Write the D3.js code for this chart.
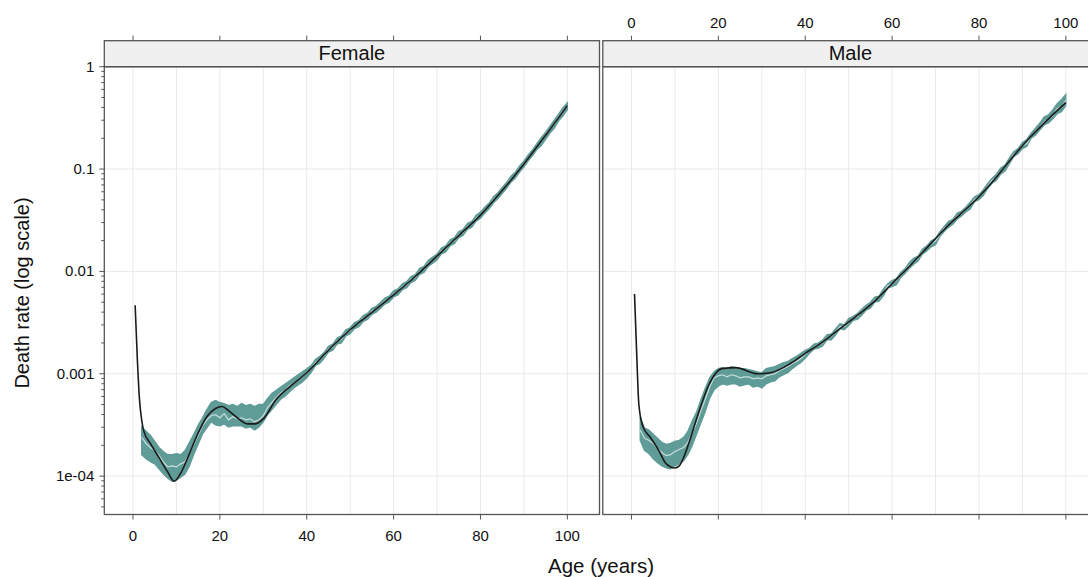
<!DOCTYPE html>
<html>
<head>
<meta charset="utf-8">
<script src="https://cdn.jsdelivr.net/npm/d3@7"></script>
<style>
  body { margin: 0; background: #fff; }
  text { font-family: "Liberation Sans", Arial, sans-serif; fill: #111; }
</style>
</head>
<body>
<svg id="chart" width="1088" height="577"></svg>
<script>
// death rates are stored as log10 values

const panels = ["Female", "Male"];
const xTicks = [0, 20, 40, 60, 80, 100];
const xGrid = [0, 10, 20, 30, 40, 50, 60, 70, 80, 90, 100];
const yTicks = [1, 0.1, 0.01, 0.001, 0.0001];
const yTickLabels = ["1", "0.1", "0.01", "0.001", "1e-04"];

// band (ages 2..100)
const bandAges = d3.range(2, 101);

const femaleMean = [-3.62, -3.68, -3.72, -3.75, -3.80, -3.86, -3.91, -3.90, -3.91, -3.88,
  -3.86, -3.78, -3.69, -3.60, -3.51, -3.45, -3.41, -3.40, -3.43, -3.39,
  -3.45, -3.42, -3.44, -3.43, -3.45, -3.44, -3.47, -3.45, -3.41, -3.33,
  -3.28, -3.23, -3.19, -3.16, -3.12, -3.09, -3.06, -3.03, -2.99,
  -2.95, -2.89, -2.86, -2.82, -2.76, -2.74, -2.68, -2.66, -2.60, -2.58,
  -2.53, -2.51, -2.46, -2.44, -2.39, -2.37, -2.33, -2.29, -2.27, -2.22,
  -2.20, -2.15, -2.13, -2.08, -2.06, -2.00, -1.98, -1.92, -1.89, -1.86,
  -1.80, -1.78, -1.72, -1.70, -1.64, -1.62, -1.56, -1.54, -1.48, -1.45,
  -1.40, -1.36, -1.30, -1.26, -1.21, -1.16, -1.10, -1.06, -1.00, -0.95,
  -0.89, -0.84, -0.78, -0.73, -0.67, -0.61, -0.56, -0.49, -0.44, -0.38];
const femaleLo = [-3.79, -3.83, -3.86, -3.88, -3.93, -3.98, -4.02, -4.05, -4.04, -4.01,
  -3.98, -3.90, -3.79, -3.69, -3.59, -3.53, -3.47, -3.50, -3.51, -3.49,
  -3.52, -3.51, -3.51, -3.51, -3.53, -3.52, -3.55, -3.52, -3.47, -3.40,
  -3.35, -3.30, -3.25, -3.22, -3.18, -3.14, -3.11, -3.08, -3.04,
  -2.99, -2.92, -2.90, -2.85, -2.79, -2.77, -2.71, -2.70, -2.63, -2.61,
  -2.56, -2.54, -2.49, -2.47, -2.42, -2.40, -2.36, -2.32, -2.30, -2.25,
  -2.23, -2.18, -2.16, -2.11, -2.09, -2.03, -2.01, -1.95, -1.92, -1.89,
  -1.83, -1.81, -1.75, -1.73, -1.67, -1.65, -1.59, -1.57, -1.51, -1.48,
  -1.43, -1.39, -1.33, -1.29, -1.24, -1.19, -1.13, -1.09, -1.03, -0.98,
  -0.92, -0.87, -0.81, -0.77, -0.71, -0.65, -0.60, -0.53, -0.48, -0.42];
const femaleHi = [-3.52, -3.56, -3.60, -3.66, -3.72, -3.76, -3.79, -3.79, -3.78, -3.79,
  -3.75, -3.67, -3.59, -3.50, -3.43, -3.35, -3.28, -3.26, -3.28, -3.29,
  -3.31, -3.30, -3.32, -3.29, -3.31, -3.30, -3.32, -3.30, -3.30, -3.24,
  -3.19, -3.16, -3.13, -3.10, -3.07, -3.04, -3.01, -2.98, -2.95,
  -2.92, -2.86, -2.83, -2.79, -2.73, -2.71, -2.65, -2.63, -2.57, -2.55,
  -2.50, -2.48, -2.43, -2.41, -2.36, -2.34, -2.30, -2.26, -2.24, -2.19,
  -2.17, -2.12, -2.10, -2.05, -2.03, -1.97, -1.95, -1.89, -1.86, -1.83,
  -1.77, -1.75, -1.69, -1.67, -1.61, -1.59, -1.53, -1.51, -1.45, -1.42,
  -1.37, -1.33, -1.27, -1.23, -1.18, -1.13, -1.07, -1.03, -0.97, -0.92,
  -0.86, -0.81, -0.75, -0.69, -0.64, -0.58, -0.52, -0.46, -0.40, -0.35];

const maleMean = [-3.55, -3.63, -3.65, -3.68, -3.73, -3.77, -3.80, -3.79, -3.76, -3.74,
  -3.72, -3.67, -3.58, -3.48, -3.36, -3.25, -3.13, -3.04, -3.02, -3.01,
  -3.03, -3.01, -3.02, -3.04, -3.03, -3.03, -3.05, -3.04, -3.05, -3.02,
  -3.01, -3.00, -2.97, -2.95, -2.93, -2.90, -2.88, -2.85, -2.81,
  -2.77, -2.74, -2.72, -2.70, -2.65, -2.63, -2.59, -2.54, -2.54, -2.50,
  -2.46, -2.44, -2.39, -2.36, -2.33, -2.28, -2.26, -2.21, -2.14, -2.12,
  -2.09, -2.04, -1.99, -1.94, -1.91, -1.87, -1.81, -1.77, -1.73, -1.70,
  -1.64, -1.58, -1.55, -1.51, -1.46, -1.44, -1.39, -1.35, -1.30, -1.27,
  -1.23, -1.17, -1.11, -1.08, -1.03, -0.98, -0.92, -0.86, -0.82, -0.77,
  -0.75, -0.68, -0.63, -0.59, -0.54, -0.51, -0.48, -0.41, -0.39, -0.33];
const maleLo = [-3.65, -3.75, -3.78, -3.83, -3.87, -3.90, -3.92, -3.93, -3.90, -3.88,
  -3.85, -3.79, -3.70, -3.59, -3.48, -3.37, -3.24, -3.16, -3.12, -3.10,
  -3.11, -3.10, -3.10, -3.12, -3.11, -3.10, -3.13, -3.12, -3.14, -3.10,
  -3.08, -3.07, -3.03, -3.01, -2.99, -2.95, -2.92, -2.89, -2.85,
  -2.80, -2.76, -2.75, -2.73, -2.67, -2.67, -2.62, -2.56, -2.57, -2.53,
  -2.48, -2.47, -2.43, -2.38, -2.36, -2.30, -2.29, -2.24, -2.16, -2.15,
  -2.13, -2.06, -2.02, -1.97, -1.93, -1.90, -1.83, -1.80, -1.76, -1.74,
  -1.66, -1.61, -1.57, -1.54, -1.49, -1.46, -1.42, -1.39, -1.32, -1.30,
  -1.26, -1.19, -1.14, -1.11, -1.05, -1.02, -0.95, -0.88, -0.85, -0.80,
  -0.78, -0.70, -0.67, -0.62, -0.57, -0.55, -0.51, -0.46, -0.44, -0.38];
const maleHi = [-3.42, -3.53, -3.55, -3.59, -3.63, -3.67, -3.69, -3.68, -3.66, -3.65,
  -3.62, -3.56, -3.46, -3.37, -3.25, -3.14, -3.04, -2.98, -2.95, -2.94,
  -2.95, -2.93, -2.94, -2.95, -2.95, -2.96, -2.97, -2.98, -2.99, -2.95,
  -2.94, -2.93, -2.91, -2.89, -2.88, -2.85, -2.83, -2.80, -2.77,
  -2.75, -2.71, -2.70, -2.67, -2.62, -2.61, -2.56, -2.51, -2.52, -2.46,
  -2.44, -2.41, -2.37, -2.33, -2.30, -2.25, -2.24, -2.17, -2.12, -2.09,
  -2.07, -2.01, -1.97, -1.91, -1.87, -1.85, -1.78, -1.75, -1.70, -1.68,
  -1.61, -1.56, -1.51, -1.49, -1.43, -1.41, -1.37, -1.32, -1.27, -1.25,
  -1.20, -1.14, -1.09, -1.05, -0.99, -0.96, -0.89, -0.83, -0.80, -0.74,
  -0.71, -0.65, -0.60, -0.55, -0.49, -0.47, -0.42, -0.36, -0.32, -0.27];

// smooth fitted curve
const femaleFitAges = [0.5, 1, 1.5, 2, 2.5, 4, 6, 8, 9.5, 11, 13, 15, 17, 19, 20.5, 22, 24, 26.5,
  28, 30, 33, 36, 40, 45, 50, 55, 60, 65, 70, 75, 80, 85, 90, 95, 100];
const femaleFit = [-2.33, -2.85, -3.25, -3.45, -3.56, -3.68, -3.82, -3.96, -4.05, -3.97, -3.78,
  -3.58, -3.42, -3.34, -3.32, -3.36, -3.43, -3.49, -3.49, -3.44, -3.25, -3.13, -2.99, -2.77,
  -2.57, -2.40, -2.23, -2.05, -1.85, -1.65, -1.45, -1.21, -0.95, -0.67, -0.38];
const maleFitAges = [0.7, 1.2, 1.7, 2.6, 4.5, 6.3, 7.8, 9, 10, 11, 12, 13.5, 15, 17.8, 20.8, 24,
  29, 32, 36.6, 40, 44, 48, 52, 56, 60, 64, 68, 72, 76, 80, 84, 88, 92, 96, 100];
const maleFit = [-2.22, -2.8, -3.30, -3.51, -3.63, -3.75, -3.87, -3.91, -3.92, -3.90, -3.82,
  -3.64, -3.44, -3.11, -2.95, -2.94, -3.0, -2.99, -2.90, -2.80, -2.69, -2.56, -2.43, -2.29,
  -2.12, -1.95, -1.77, -1.59, -1.43, -1.27, -1.08, -0.87, -0.68, -0.51, -0.35];

const series = {
  Female: { mean: femaleMean, lo: femaleLo, hi: femaleHi, fitAges: femaleFitAges, fit: femaleFit },
  Male: { mean: maleMean, lo: maleLo, hi: maleHi, fitAges: maleFitAges, fit: maleFit }
};

const panelW = 495.2,
    panelTop = 66.7,
    panelBottom = 514.5,
    stripTop = 40.7;
const panelX = [104.3, 602.8];

const svg = d3.select("#chart");

const x = d3.scaleLinear().domain([-6.6, 107.4]).range([0, panelW]);
const y = d3.scaleLog().domain([Math.pow(10, -4.375), 1]).range([panelBottom, panelTop]);

// minor log ticks
var minorTicks = [];
for (let e = -5; e <= 0; e++) {
    for (let m = 2; m <= 9; m++) {
        var v = m * Math.pow(10, e);
        if (v >= y.domain()[0] && v <= 1) minorTicks.push(v);
    }
}

panels.forEach(function (name, i) {
    var g = svg.append("g").attr("transform", "translate(" + panelX[i] + ",0)");
    var s = series[name];

    // grid
    g.selectAll(".vg").data(xGrid).enter().append("line")
        .attr("x1", d => x(d)).attr("x2", d => x(d))
        .attr("y1", panelTop).attr("y2", panelBottom)
        .attr("stroke", "#e9e9e9").attr("stroke-width", 1);
    g.selectAll(".hg").data(yTicks).enter().append("line")
        .attr("x1", 0).attr("x2", panelW)
        .attr("y1", d => y(d)).attr("y2", d => y(d))
        .attr("stroke", "#e9e9e9").attr("stroke-width", 1);

    var clip = "clip" + i;
    g.append("clipPath").attr("id", clip).append("rect")
        .attr("x", 0).attr("y", panelTop).attr("width", panelW).attr("height", panelBottom - panelTop);
    var plot = g.append("g").attr("clip-path", "url(#" + clip + ")");

    var area = d3.area()
        .x((d, j) => x(bandAges[j]))
        .y0((d, j) => y(Math.pow(10, s.lo[j])))
        .y1((d, j) => y(Math.pow(10, s.hi[j])));
    plot.append("path").datum(s.lo).attr("d", area)
        .attr("fill", "#5f9b97").attr("stroke", "#5f9b97").attr("stroke-width", 1.2);

    var meanLine = d3.line()
        .x((d, j) => x(bandAges[j]))
        .y(d => y(Math.pow(10, d)));
    plot.append("path").datum(s.mean).attr("d", meanLine)
        .attr("fill", "none").attr("stroke", "#c9dfdb").attr("stroke-width", 1.2);

    var fitLine = d3.line()
        .x((d, j) => x(s.fitAges[j]))
        .y(d => y(Math.pow(10, d)))
        .curve(d3.curveMonotoneX);
    plot.append("path").datum(s.fit).attr("d", fitLine)
        .attr("fill", "none").attr("stroke", "#1b1b1b").attr("stroke-width", 1.6);

    // strip
    g.append("rect").attr("x", 0).attr("y", stripTop).attr("width", panelW).attr("height", panelTop - stripTop)
        .attr("fill", "#f0f0f0").attr("stroke", "#555").attr("stroke-width", 1.3);
    g.append("text").attr("x", panelW / 2).attr("y", panelTop - 6.5)
        .attr("text-anchor", "middle").style("font-size", "20px").text(name);

    // frame
    g.append("rect").attr("x", 0).attr("y", panelTop).attr("width", panelW).attr("height", panelBottom - panelTop)
        .attr("fill", "none").attr("stroke", "#555").attr("stroke-width", 1.3);

    // x ticks top and bottom
    g.selectAll(".bt").data(xTicks).enter().append("line")
        .attr("x1", d => x(d)).attr("x2", d => x(d))
        .attr("y1", panelBottom).attr("y2", panelBottom + 5)
        .attr("stroke", "#555");
    g.selectAll(".tt").data(xTicks).enter().append("line")
        .attr("x1", d => x(d)).attr("x2", d => x(d))
        .attr("y1", stripTop).attr("y2", stripTop - 5)
        .attr("stroke", "#555");

    if (i == 0) {
        g.selectAll(".bl").data(xTicks).enter().append("text")
            .attr("x", d => x(d)).attr("y", panelBottom + 26)
            .attr("text-anchor", "middle").style("font-size", "15px").text(d => d);

        g.selectAll(".yt").data(yTicks).enter().append("line")
            .attr("x1", -5).attr("x2", 0)
            .attr("y1", d => y(d)).attr("y2", d => y(d))
            .attr("stroke", "#555");
        g.selectAll(".ym").data(minorTicks).enter().append("line")
            .attr("x1", -3).attr("x2", 0)
            .attr("y1", d => y(d)).attr("y2", d => y(d))
            .attr("stroke", "#555");
        g.selectAll(".yl").data(yTicks).enter().append("text")
            .attr("x", -10).attr("y", d => y(d) + 5)
            .attr("text-anchor", "end").style("font-size", "15px")
            .text((d, j) => yTickLabels[j]);
    } else {
        g.selectAll(".tl").data(xTicks).enter().append("text")
            .attr("x", d => x(d)).attr("y", stripTop - 13)
            .attr("text-anchor", "middle").style("font-size", "15px").text(d => d);
    }
});

svg.append("text").attr("x", 601).attr("y", 573)
    .attr("text-anchor", "middle").style("font-size", "20.5px").text("Age (years)");
svg.append("text").attr("transform", "translate(29,293) rotate(-90)")
    .attr("text-anchor", "middle").style("font-size", "20px").text("Death rate (log scale)");
</script>
</body>
</html>
